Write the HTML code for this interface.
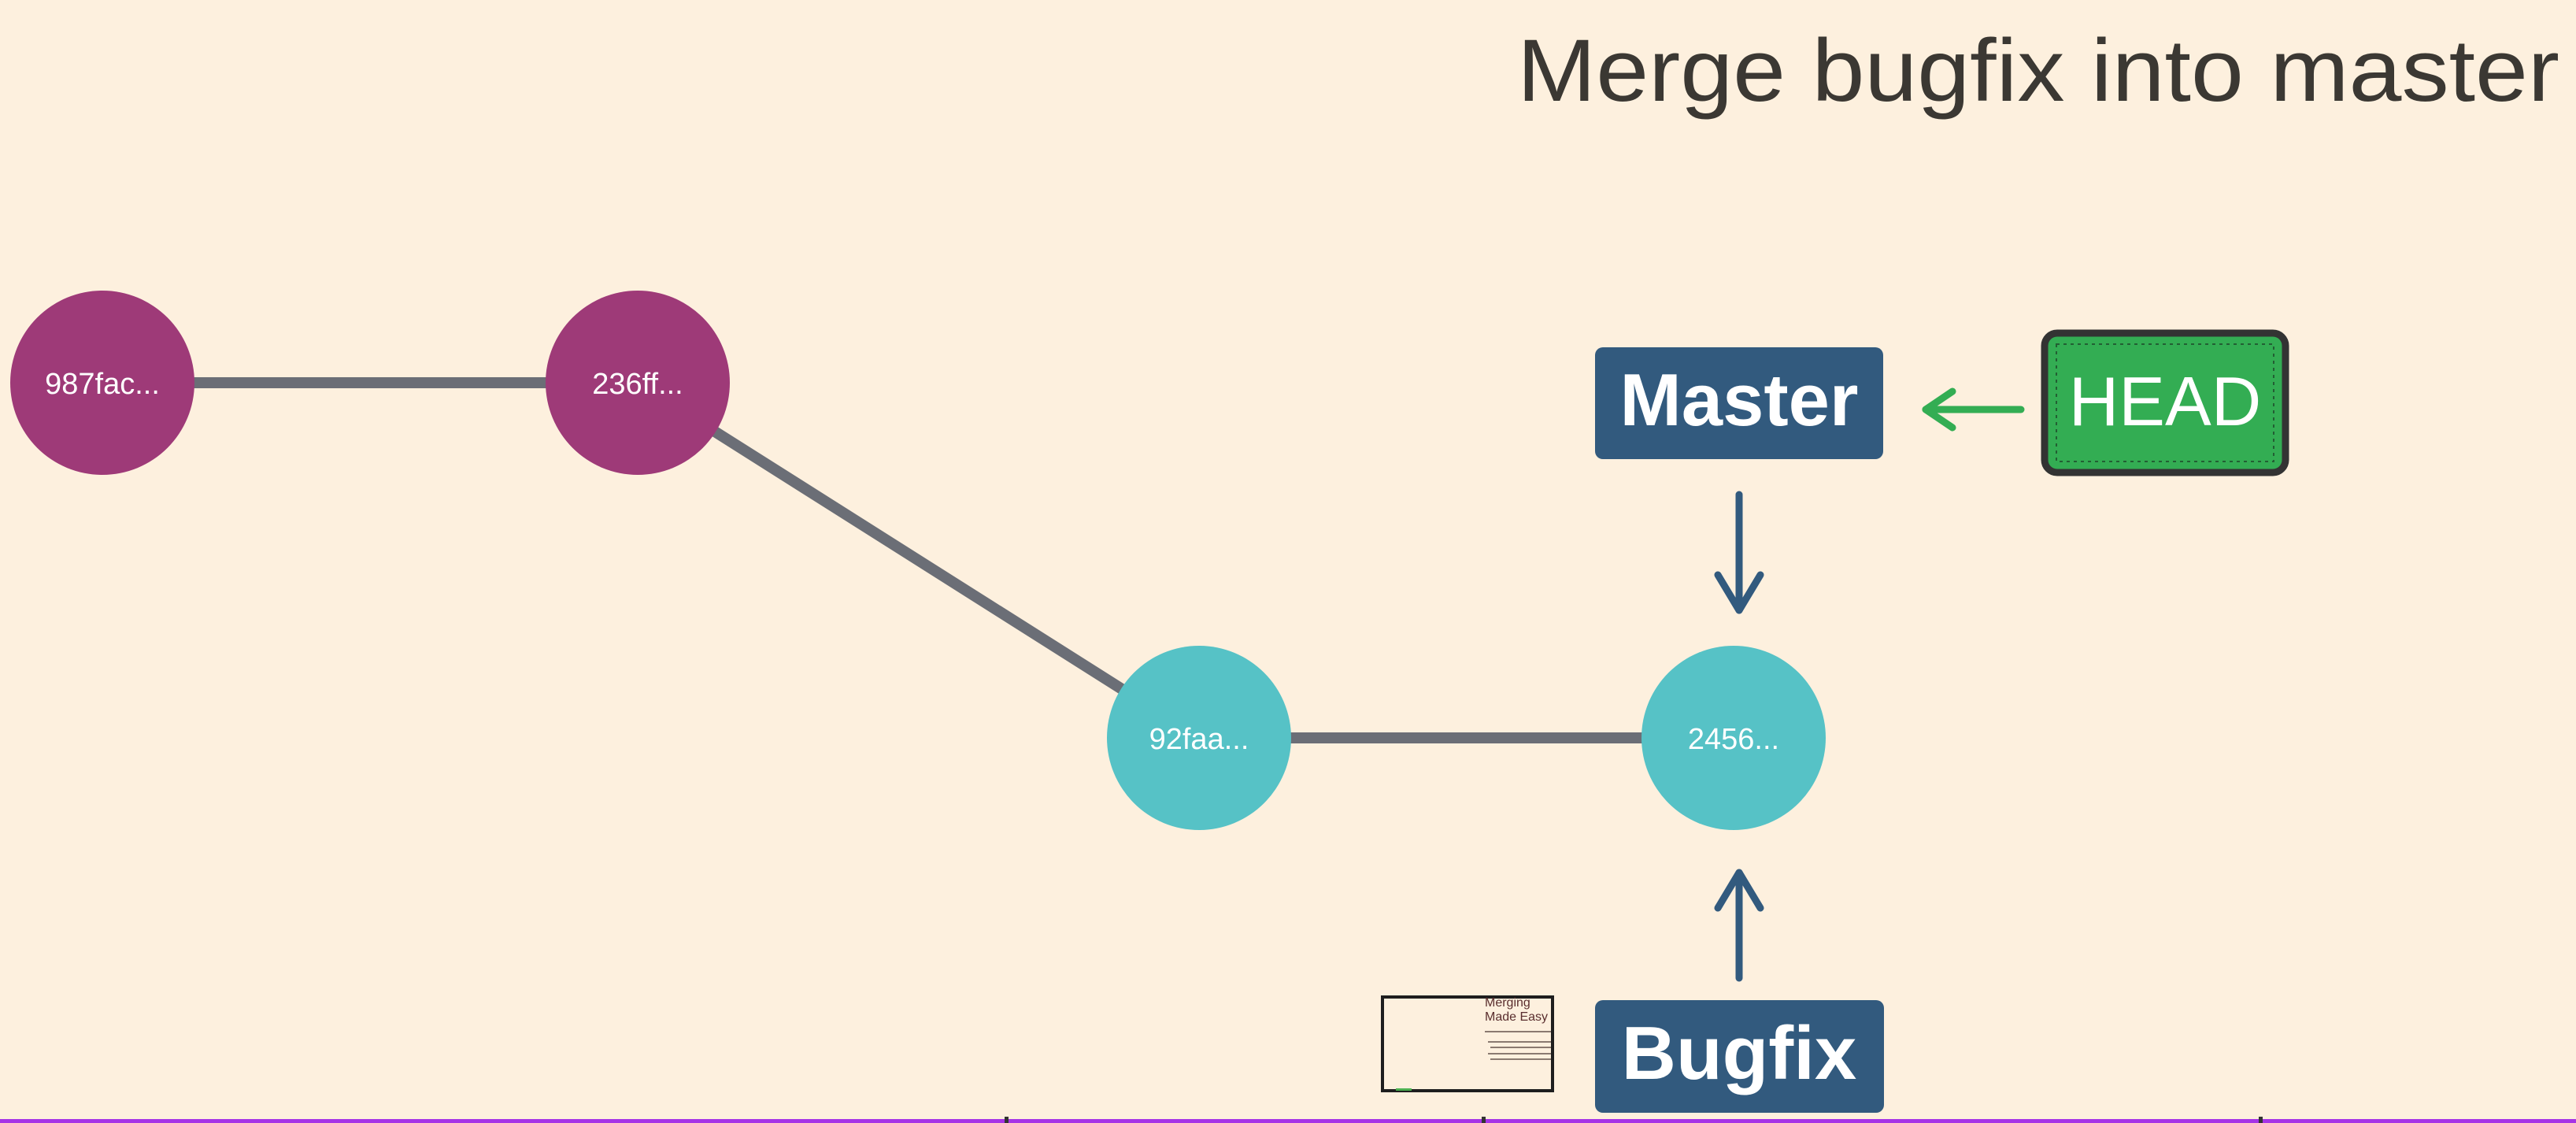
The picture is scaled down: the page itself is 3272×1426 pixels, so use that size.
<!DOCTYPE html>
<html><head><meta charset="utf-8"><style>
html,body{margin:0;padding:0;background:#fdf0de;}
svg{display:block;}
</style></head><body>
<svg width="3272" height="1426" viewBox="0 0 3272 1426" xmlns="http://www.w3.org/2000/svg">
<rect width="3272" height="1426" fill="#fdf0de"/>
<text x="1927" y="128" font-family="Liberation Sans, sans-serif" font-size="112" fill="#3b3833" textLength="1324" lengthAdjust="spacingAndGlyphs">Merge bugfix into master</text>
<!-- edges -->
<line x1="130" y1="486" x2="810" y2="486" stroke="#6b6e76" stroke-width="14"/>
<line x1="810" y1="486" x2="1523" y2="937" stroke="#6b6e76" stroke-width="14"/>
<line x1="1523" y1="937" x2="2202" y2="937" stroke="#6b6e76" stroke-width="14"/>
<!-- nodes -->
<circle cx="130" cy="486" r="117" fill="#9e3a78"/>
<circle cx="810" cy="486" r="117" fill="#9e3a78"/>
<circle cx="1523" cy="937" r="117" fill="#56c2c6"/>
<circle cx="2202" cy="937" r="117" fill="#56c2c6"/>
<g font-family="Liberation Sans, sans-serif" font-size="38" fill="#fff" text-anchor="middle">
<text x="130" y="500">987fac...</text>
<text x="810" y="500">236ff...</text>
<text x="1523" y="951">92faa...</text>
<text x="2202" y="951">2456...</text>
</g>
<!-- Master -->
<rect x="2026" y="441" width="366" height="142" rx="10" fill="#325a7e"/>
<text x="2209" y="540" font-family="Liberation Sans, sans-serif" font-weight="bold" font-size="94" fill="#fff" text-anchor="middle">Master</text>
<!-- HEAD -->
<rect x="2597" y="423" width="306" height="177" rx="16" fill="#33ad53" stroke="#333" stroke-width="9"/>
<rect x="2612" y="437" width="276" height="149" fill="none" stroke="#235f33" stroke-width="2" stroke-dasharray="4 5"/>
<text x="2750" y="540" font-family="Liberation Sans, sans-serif" font-size="88" fill="#fff" text-anchor="middle">HEAD</text>
<!-- green arrow -->
<g stroke="#33ad53" stroke-width="9" fill="none" stroke-linecap="round" stroke-linejoin="round">
<line x1="2567" y1="520" x2="2446" y2="520"/>
<polyline points="2480,497 2446,520 2480,543"/>
</g>
<!-- down arrow -->
<g stroke="#325a7e" stroke-width="9" fill="none" stroke-linecap="round" stroke-linejoin="round">
<line x1="2209" y1="628" x2="2209" y2="775"/>
<polyline points="2182,730 2209,775 2236,730"/>
<line x1="2209" y1="1242" x2="2209" y2="1108"/>
<polyline points="2182,1153 2209,1108 2236,1153"/>
</g>
<!-- Bugfix -->
<rect x="2026" y="1270" width="367" height="143" rx="10" fill="#325a7e"/>
<text x="2209" y="1370" font-family="Liberation Sans, sans-serif" font-weight="bold" font-size="96" fill="#fff" text-anchor="middle">Bugfix</text>
<!-- thumbnail -->
<rect x="1756" y="1266" width="216" height="119" fill="#fdf0de" stroke="#1e1e1e" stroke-width="4"/>
<text x="1886" y="1278" font-family="Liberation Sans, sans-serif" font-size="16" fill="#5a2e2e">Merging</text>
<text x="1886" y="1296" font-family="Liberation Sans, sans-serif" font-size="16" fill="#5a2e2e">Made Easy</text>
<g stroke="#8a7a70" stroke-width="2">
<line x1="1886" y1="1310" x2="1970" y2="1310"/>
<line x1="1890" y1="1323" x2="1970" y2="1323"/>
<line x1="1893" y1="1330" x2="1970" y2="1330"/>
<line x1="1890" y1="1338" x2="1970" y2="1338"/>
<line x1="1893" y1="1345" x2="1970" y2="1345"/>
</g>
<rect x="1773" y="1382" width="20" height="3" fill="#4caf50"/>
<!-- bottom bar -->
<rect x="0" y="1421" width="3272" height="5" fill="#a633e6"/>
<rect x="1276" y="1418" width="5" height="8" fill="#333"/>
<rect x="1882" y="1418" width="5" height="8" fill="#333"/>
<rect x="2869" y="1418" width="5" height="8" fill="#333"/>
</svg>
</body></html>
